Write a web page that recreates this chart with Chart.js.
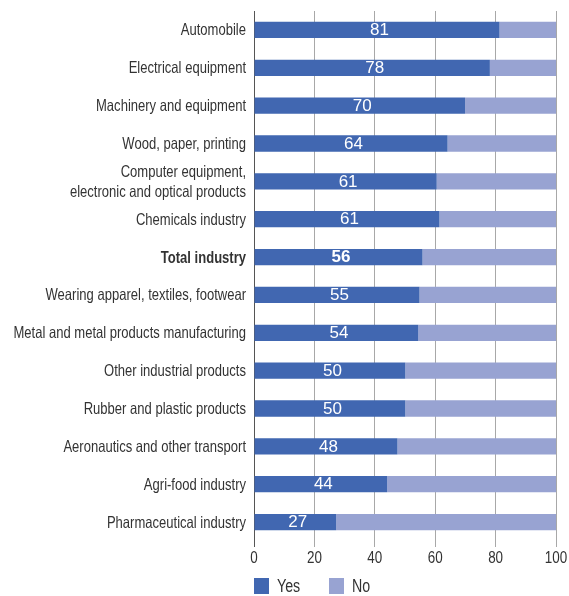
<!DOCTYPE html>
<html>
<head>
<meta charset="utf-8">
<script src="https://cdn.jsdelivr.net/npm/chart.js"></script>
<style>
  html, body { margin: 0; padding: 0; background: #fff; }
  #wrap { width: 569px; height: 596px; position: relative; }
</style>
</head>
<body>
<div id="wrap"><canvas id="chart"></canvas></div>
<script>
// Share of firms answering Yes / No, by industry
const categories = [
    'Automobile',
    'Electrical equipment',
    'Machinery and equipment',
    'Wood, paper, printing',
    ['Computer equipment,', 'electronic and optical products'],
    'Chemicals industry',
    'Total industry',
    'Wearing apparel, textiles, footwear',
    'Metal and metal products manufacturing',
    'Other industrial products',
    'Rubber and plastic products',
    'Aeronautics and other transport',
    'Agri-food industry',
    'Pharmaceutical industry'
];
const yesValues = [81.3, 78.1, 69.9, 64.1, 60.5, 61.4, 55.8, 54.8, 54.4, 50.1, 50.1, 47.5, 44.1, 27.2];
const noValues = [18.7, 21.9, 30.1, 35.9, 39.5, 38.6, 44.2, 45.2, 45.6, 49.9, 49.9, 52.5, 55.9, 72.8];
const xTicks = [0, 20, 40, 60, 80, 100];
const BOLD_INDEX = 6;

const FONT = "'Liberation Sans', Arial, sans-serif";
const NARROW = 0.79;   // horizontal squeeze to mimic Arial Narrow
const TEXT_COLOR = '#333333';
const YES_COLOR = '#4167b1';
const NO_COLOR = '#98a3d2';

// draws one line of squeezed text
function narrowText(ctx, text, x, y, align, font) {
    ctx.save();
    ctx.translate(x, y);
    ctx.scale(NARROW, 1);
    ctx.font = font;
    ctx.textAlign = align;
    ctx.textBaseline = 'middle';
    ctx.fillText(text, 0, 0);
    ctx.restore();
}

// category names, x tick labels and legend, all in the narrow face
const axisText = {
    id: 'axisText',
    afterDraw(chart) {
        const { ctx, chartArea } = chart;
        const xScale = chart.scales.x;
        const yScale = chart.scales.y;
        ctx.save();
        ctx.fillStyle = TEXT_COLOR;

        categories.forEach((cat, i) => {
            const lines = Array.isArray(cat) ? cat : [cat];
            const cy = yScale.getPixelForTick(i);
            const font = (i === BOLD_INDEX ? 'bold ' : '') + '16.5px ' + FONT;
            const lh = 19.5;
            lines.forEach((ln, k) => {
                const y = cy + (k - (lines.length - 1) / 2) * lh + 1;
                narrowText(ctx, ln, chartArea.left - 8, y, 'right', font);
            });
        });

        xTicks.forEach(v => {
            narrowText(ctx, String(v), xScale.getPixelForValue(v), chartArea.bottom + 17, 'center', '17px ' + FONT);
        });

        let x = chartArea.left;
        const top = 578, size = 16;
        chart.data.datasets.forEach(d => {
            ctx.fillStyle = d.backgroundColor;
            ctx.fillRect(x, top, 15, size);
            ctx.fillStyle = TEXT_COLOR;
            narrowText(ctx, d.label, x + 23, top + size / 2 + 1, 'left', '18px ' + FONT);
            x += 75;
        });
        ctx.restore();
    }
};

// white value labels inside the Yes bars
const barLabels = {
    id: 'barLabels',
    afterDatasetsDraw(chart) {
        const { ctx } = chart;
        const meta = chart.getDatasetMeta(0);
        ctx.save();
        ctx.fillStyle = '#ffffff';
        ctx.textAlign = 'center';
        ctx.textBaseline = 'middle';
        meta.data.forEach((bar, i) => {
            ctx.font = (i === BOLD_INDEX ? 'bold ' : '') + '17px ' + FONT;
            const cx = (bar.x + bar.base) / 2 + 2.5;
            ctx.fillText(Math.round(yesValues[i]), cx, bar.y + 0.5);
        });
        ctx.restore();
    }
};

const ctx = document.getElementById('chart').getContext('2d');
new Chart(ctx, {
    type: 'bar',
    data: {
        labels: categories,
        datasets: [
            { label: 'Yes', data: yesValues, backgroundColor: YES_COLOR, categoryPercentage: 1, barPercentage: 0.43 },
            { label: 'No', data: noValues, backgroundColor: NO_COLOR, categoryPercentage: 1, barPercentage: 0.43 }
        ]
    },
    options: {
        indexAxis: 'y',
        responsive: true,
        maintainAspectRatio: false,
        animation: false,
        layout: { padding: { top: 11, right: 13, left: 0, bottom: 0 } },
        plugins: {
            legend: { display: false },
            tooltip: { enabled: false }
        },
        scales: {
            x: {
                stacked: true,
                min: 0,
                max: 100,
                afterBuildTicks: (scale) => { scale.ticks = xTicks.map(v => ({ value: v })); },
                afterFit: (scale) => { scale.height = 55; },
                border: { display: false },
                grid: {
                    color: (c) => c.tick && c.tick.value === 0 ? '#555555' : '#a8a8a8',
                    lineWidth: 1,
                    tickLength: 6
                },
                ticks: { display: false }
            },
            y: {
                stacked: true,
                afterFit: (scale) => { scale.width = 254; },
                border: { display: false },
                grid: { display: false },
                ticks: { display: false }
            }
        }
    },
    plugins: [barLabels, axisText]
});
</script>
</body>
</html>
